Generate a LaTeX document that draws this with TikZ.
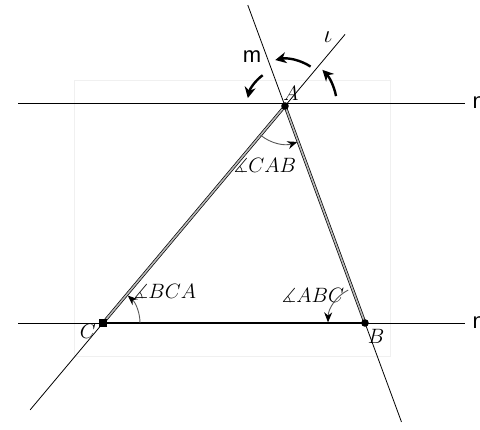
\documentclass[tikz,border=0pt]{standalone}
\usepackage{amssymb}
\usepackage{fontspec}
\newfontfamily\labelfont{Liberation Sans}
\usetikzlibrary{arrows.meta,calc}

\begin{document}
\begin{tikzpicture}[x=1pt,y=1pt,
	side/.style={draw=black,line width=0.7pt,double=gray!55,double distance=1.6pt},
	turn/.style={line width=2.4pt,-{Stealth[length=11pt,width=11pt]}},
	angarc/.style={line width=0.9pt,draw=black!65,-{Stealth[length=10pt,width=8pt,black]}},
	ptlabel/.style={font=\fontsize{20}{24}\selectfont},
	linelabel/.style={font=\labelfont\fontsize{22}{26}\selectfont}]
	\useasboundingbox (0,0) rectangle (480,430);
	\draw[gray!12,line width=0.8pt] (74,74) rectangle (390,350);
	\coordinate (A) at (285,324);
	\coordinate (B) at (365,107);
	\coordinate (C) at (103,107);
	\coordinate (n1w) at (18,327);
	\coordinate (n1e) at (465,327);
	\coordinate (n2w) at (18,107);
	\coordinate (n2e) at (465,107);
	\coordinate (l1) at ($(C)!-0.40!(A)$);
	\coordinate (l2) at ($(A)!-0.33!(C)$);
	\coordinate (m1) at ($(A)!-0.465!(B)$);
	\coordinate (m2) at ($(B)!-0.456!(A)$);
	\draw[line width=0.9pt] (n1w) -- (n1e);
	\draw[line width=0.9pt] (n2w) -- (n2e);
	\draw[line width=0.8pt] (l1) -- (l2);
	\draw[line width=0.8pt] (m1) -- (m2);
	\draw[side] (C) -- (A);
	\draw[side] (A) -- (B);
	\draw[line width=2.8pt] (C) -- (B);
	\fill (A) circle (3.8);
	\fill (B) circle (3.8);
	\fill ($(C)+(-3.8,-3.8)$) rectangle ($(C)+(3.8,3.8)$);
	\draw[angarc] ($(A)+(230:38)$) arc[start angle=230,end angle=289,radius=38];
	\draw[angarc] ($(C)+(0:37)$) arc[start angle=0,end angle=48,radius=37];
	\draw[angarc] ($(B)+(117:37)$) arc[start angle=117,end angle=179,radius=37];
	\draw[turn] ($(A)+(126:38)$) arc[start angle=126,end angle=168,radius=38];
	\draw[turn] ($(A)+(57:47)$) arc[start angle=57,end angle=102,radius=47];
	\draw[turn] ($(A)+(11:52)$) arc[start angle=11,end angle=44,radius=52];
	\node[ptlabel] (a) at (291,337) {$A$};
	\node[ptlabel] (b) at (376,94) {$B$};
	\node[ptlabel] (c) at (88,99) {$C$};
	\node[ptlabel] (cab) at (265,265) {$\measuredangle CAB$};
	\node[ptlabel] (bca) at (165,139) {$\measuredangle BCA$};
	\node[ptlabel] (abc) at (313,135) {$\measuredangle ABC$};
	\node[linelabel] (m) at (252,373) {m};
	\node[font=\fontsize{28}{30}\selectfont] (l) at (328,393) {$\iota$};
	\node[linelabel,anchor=west] (n1) at ($(n1e)+(4,0)$) {n};
	\node[linelabel,anchor=west] (n2) at ($(n2e)+(4,0)$) {n};
\end{tikzpicture}
\end{document}
